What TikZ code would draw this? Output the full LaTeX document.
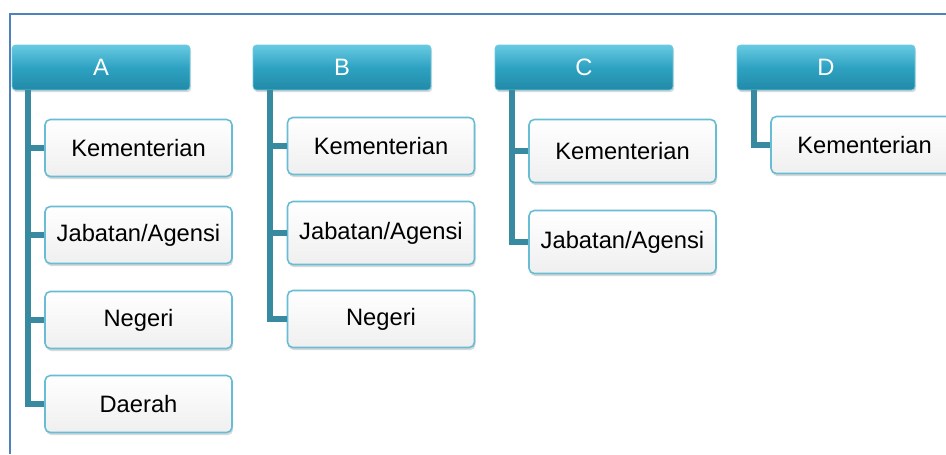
\documentclass[tikz,border=0pt]{standalone}
\usepackage{fontspec}
\setmainfont{Liberation Sans}
\usetikzlibrary{shadows,positioning}
\definecolor{tealgelap}{RGB}{34,138,167}
\definecolor{tealtengah}{RGB}{46,162,194}
\definecolor{tealterang}{RGB}{104,202,226}
\definecolor{tepiunit}{RGB}{104,188,212}
\definecolor{isiunit}{RGB}{239,239,239}
\definecolor{warnabatang}{RGB}{56,138,160}
\definecolor{garisbiru}{RGB}{79,129,189}
\tikzset{%
  kepala/.style={draw=tealterang, top color=tealterang, bottom color=tealgelap, middle color=tealtengah, text=white, minimum width=3.56cm, minimum height=0.9cm, rounded corners=2pt, font=\fontsize{13.5}{16}\selectfont, drop shadow={opacity=0.3, shadow xshift=0.6pt, shadow yshift=-1.2pt}},
  unit/.style={draw=tepiunit, line width=0.9pt, top color=white, bottom color=isiunit, text=black, minimum width=3.74cm, minimum height=1.14cm, rounded corners=3pt, font=\fontsize{13.5}{16}\selectfont, drop shadow={opacity=0.3, shadow xshift=0.6pt, shadow yshift=-1.5pt}},
  unittinggi/.style={unit, minimum height=1.26cm},
  batang/.style={draw, line width=3.1pt, color=warnabatang},
  bingkai/.style={draw, line width=0.9pt, color=garisbiru},
}

\begin{document}
\begin{tikzpicture}[x=0.02cm, y=-0.02cm]
  \useasboundingbox (0,0) rectangle (946,454);
  \path [bingkai] (10,454) -- (10,14) -- (946,14);

  % kepala lajur
  \node (a) [kepala] at (101,67.5) {A};
  \node (b) [kepala] at (342,67.5) {B};
  \node (c) [kepala] at (584,67.5) {C};
  \node (d) [kepala] at (826,67.5) {D};

  % lajur A
  \node (a-1) [unit] at (138.5,148) {Kementerian};
  \node (a-2) [unit] at (138.5,235) {Jabatan/Agensi};
  \node (a-3) [unit] at (138.5,320) {Negeri};
  \node (a-4) [unit] at (138.5,404) {Daerah};
  % lajur B
  \node (b-1) [unit] at (381,146) {Kementerian};
  \node (b-2) [unittinggi] at (381,233) {Jabatan/Agensi};
  \node (b-3) [unit] at (381,319) {Negeri};
  % lajur C
  \node (c-1) [unittinggi] at (622.5,151) {Kementerian};
  \node (c-2) [unittinggi] at (622.5,242) {Jabatan/Agensi};
  % lajur D
  \node (d-1) [unit] at (864.5,145) {Kementerian};

  \coordinate (ta) at (28,90);
  \coordinate (tb) at (270,90);
  \coordinate (tc) at (512,90);
  \coordinate (td) at (754,90);

  \path [batang] (ta) |- (a-4.west);
  \path [batang] (ta |- a-1.west) -- (a-1.west);
  \path [batang] (ta |- a-2.west) -- (a-2.west);
  \path [batang] (ta |- a-3.west) -- (a-3.west);
  \path [batang] (tb) |- (b-3.west);
  \path [batang] (tb |- b-1.west) -- (b-1.west);
  \path [batang] (tb |- b-2.west) -- (b-2.west);
  \path [batang] (tc) |- (c-2.west);
  \path [batang] (tc |- c-1.west) -- (c-1.west);
  \path [batang] (td) |- (d-1.west);
\end{tikzpicture}
\end{document}
